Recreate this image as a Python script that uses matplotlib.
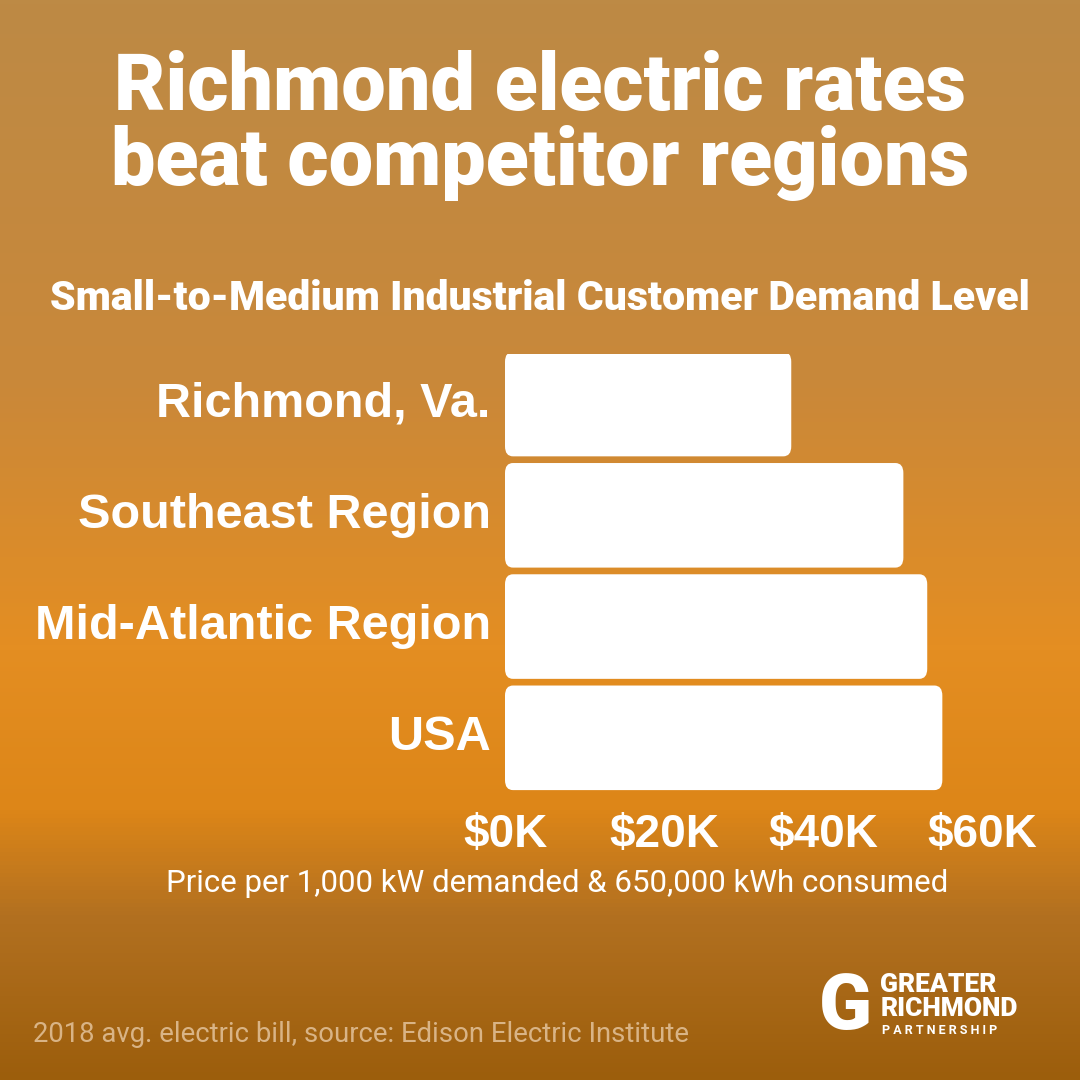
import matplotlib.pyplot as plt
import numpy as np
from matplotlib.colors import LinearSegmentedColormap
from matplotlib.patches import FancyBboxPatch

regions = ["Richmond, Va.", "Southeast Region", "Mid-Atlantic Region", "USA"]
bills_k = [36.0, 50.1, 53.1, 55.0]
tick_vals = [0, 20, 40, 60]
tick_labels = ["$0K", "$20K", "$40K", "$60K"]

fig = plt.figure(figsize=(10.8, 10.8), dpi=100)

# background gradient
bg = fig.add_axes([0, 0, 1, 1])
cmap = LinearSegmentedColormap.from_list("sunset", [
    (0.0, "#bd8a45"), (0.35, "#c9883a"), (0.6, "#e48e22"),
    (0.75, "#dd8618"), (0.85, "#b27020"), (1.0, "#9c5e0c")])
grad = np.linspace(0, 1, 256).reshape(-1, 1)
bg.imshow(grad, aspect="auto", cmap=cmap, extent=[0, 1, 0, 1], origin="upper")
bg.set_xlim(0, 1)
bg.set_ylim(0, 1)
bg.axis("off")

W = 1080.0
ax = fig.add_axes([505 / W, 1 - 799 / W, 493 / W, 445 / W])
ax.set_xlim(0, 62)
ax.set_ylim(3.55, -0.45)
ax.axis("off")
for i, v in enumerate(bills_k):
    ax.add_patch(FancyBboxPatch((0, i - 0.47), v, 0.94,
                                boxstyle="round,pad=0,rounding_size=1.0",
                                mutation_aspect=0.09, fc="white", ec="none"))
    ax.text(-1.8, i, regions[i], ha="right", va="center", color="white",
            fontsize=35, fontweight="bold", family="Liberation Sans")
for t, lab in zip(tick_vals, tick_labels):
    ax.text(t, 3.68, lab, ha="center", va="top", color="white",
            fontsize=33, fontweight="bold", family="Liberation Sans", clip_on=False)

fig.text(0.5, 1 - 88 / W, "Richmond electric rates", ha="center", va="center",
         color="white", fontsize=57, fontweight="heavy", family="Roboto")
fig.text(0.5, 1 - 163 / W, "beat competitor regions", ha="center", va="center",
         color="white", fontsize=57, fontweight="heavy", family="Roboto")
fig.text(0.500, 1 - 298 / W, "Small-to-Medium Industrial Customer Demand Level",
         ha="center", va="center", color="white", fontsize=29.5,
         fontweight="heavy", family="Roboto")
fig.text(557 / W, 1 - 884 / W, "Price per 1,000 kW demanded & 650,000 kWh consumed",
         ha="center", va="center", color="white", fontsize=22.5, family="Roboto")
fig.text(0.031, 1 - 1034 / W, "2018 avg. electric bill, source: Edison Electric Institute",
         ha="left", va="center", color="#d9b486", fontsize=19.8, family="Roboto")
fig.text(0.815, 1 - 985 / W, "GREATER", ha="left", va="center",
         color="white", fontsize=19, fontweight="heavy", family="Roboto")
fig.text(0.815, 1 - 1009 / W, "RICHMOND", ha="left", va="center",
         color="white", fontsize=19, fontweight="heavy", family="Roboto")
fig.text(0.817, 1 - 1031 / W, "P A R T N E R S H I P", ha="left", va="center",
         color="white", fontsize=9, fontweight="bold", family="Roboto")
fig.text(0.783, 1 - 1008 / W, "G", ha="center", va="center", color="white",
         fontsize=56, fontweight="heavy", family="Roboto")

fig.savefig("out.png", dpi=100)
